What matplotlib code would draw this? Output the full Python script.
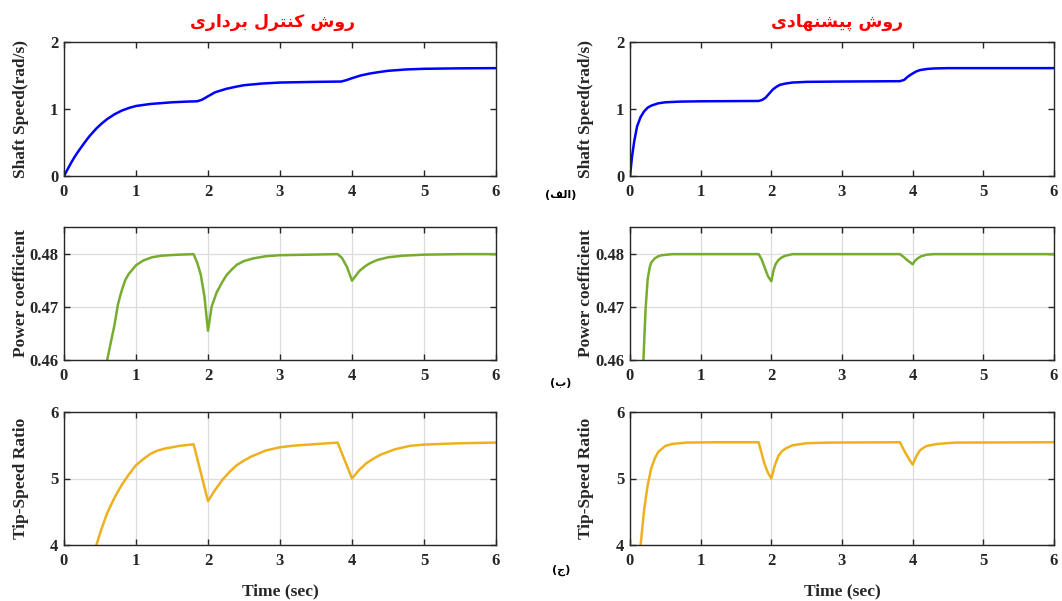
import matplotlib

matplotlib.use("Agg")
import matplotlib.pyplot as plt

# ---- values -------------------------------------------------------------
# shaft speed (rad/s), vector control (left) and proposed method (right)
t_speed_vc = [0, 0.05, 0.1, 0.15, 0.2, 0.28, 0.35, 0.45, 0.52, 0.6, 0.7, 0.8, 0.9, 1.0, 1.2,
              1.5, 1.7, 1.85, 1.92, 2.0, 2.1, 2.25, 2.4, 2.5, 2.75, 3.0, 3.5, 3.85, 3.92, 4.0,
              4.12, 4.25, 4.4, 4.5, 4.75, 5.0, 5.5, 6.0]
speed_vc = [0, 0.1, 0.2, 0.29, 0.37, 0.49, 0.59, 0.71, 0.78, 0.85, 0.92, 0.975, 1.015, 1.045,
            1.075, 1.1, 1.11, 1.115, 1.14, 1.19, 1.25, 1.30, 1.335, 1.355, 1.38, 1.395, 1.405,
            1.41, 1.43, 1.46, 1.5, 1.53, 1.555, 1.57, 1.59, 1.60, 1.607, 1.61]
t_speed_pr = [0, 0.03, 0.06, 0.1, 0.15, 0.2, 0.25, 0.3, 0.4, 0.5, 0.7, 1.0, 1.5, 1.82,
              1.87, 1.92, 1.97, 2.02, 2.07, 2.12, 2.2, 2.3, 2.5, 3.0, 3.5, 3.82, 3.88, 3.94,
              4.0, 4.05, 4.1, 4.2, 4.3, 4.5, 5.0, 6.0]
speed_pr = [0, 0.3, 0.52, 0.74, 0.88, 0.965, 1.02, 1.05, 1.085, 1.10, 1.11, 1.115, 1.118, 1.12,
            1.135, 1.17, 1.23, 1.29, 1.33, 1.36, 1.38, 1.395, 1.405, 1.41, 1.413, 1.415, 1.435, 1.49,
            1.53, 1.56, 1.58, 1.597, 1.605, 1.61, 1.61, 1.61]

# power coefficient
t_cp_vc = [0.6, 0.65, 0.7, 0.75, 0.8, 0.85, 0.9, 1.0, 1.1, 1.22, 1.35, 1.46, 1.6, 1.8,
           1.85, 1.9, 1.95, 2.0, 2.05, 2.12, 2.2, 2.26, 2.33, 2.4, 2.5, 2.63, 2.8, 3.0, 3.4, 3.8,
           3.86, 3.93, 4.0, 4.05, 4.1, 4.18, 4.25, 4.35, 4.5, 4.7, 5.0, 5.5, 6.0]
cp_vc = [0.46, 0.4633, 0.4665, 0.4705, 0.4730, 0.4750, 0.4762, 0.4778, 0.4787, 0.4793, 0.4796,
         0.4797, 0.4798, 0.4799,
         0.4783, 0.4760, 0.4720, 0.4655, 0.4700, 0.4727, 0.4747, 0.4760, 0.4770, 0.4779, 0.4786,
         0.4791, 0.4795, 0.4797, 0.4798, 0.4799,
         0.4792, 0.4775, 0.4749, 0.4758, 0.4767, 0.4776, 0.4782, 0.4788, 0.4793, 0.4796, 0.4798,
         0.4799, 0.4799]
t_cp_pr = [0.19, 0.22, 0.25, 0.28, 0.3, 0.35, 0.4, 0.45, 0.6, 1.0, 1.82,
           1.86, 1.9, 1.95, 2.0, 2.03, 2.06, 2.1, 2.15, 2.2, 2.3, 3.0, 3.82,
           3.87, 3.92, 3.96, 4.0, 4.03, 4.07, 4.12, 4.2, 4.3, 5.0, 6.0]
cp_pr = [0.46, 0.4695, 0.4752, 0.4775, 0.4783, 0.4791, 0.4795, 0.4797, 0.4799, 0.4799, 0.4799,
         0.4790, 0.4776, 0.4758, 0.4748, 0.4768, 0.4780, 0.4788, 0.4793, 0.4796, 0.4799, 0.4799,
         0.4799,
         0.4794, 0.4788, 0.4784, 0.4780, 0.4786, 0.4791, 0.4795, 0.4798, 0.4799, 0.4799, 0.4799]

# tip-speed ratio
t_tsr_vc = [0.45, 0.52, 0.6, 0.7, 0.8, 0.9, 1.0, 1.1, 1.2, 1.3, 1.4, 1.6, 1.8,
            1.9, 2.0, 2.1, 2.2, 2.3, 2.4, 2.5, 2.6, 2.8, 3.0, 3.2, 3.4, 3.8,
            3.9, 4.0, 4.1, 4.2, 4.3, 4.4, 4.6, 4.8, 5.0, 5.5, 6.0]
tsr_vc = [4.0, 4.24, 4.48, 4.71, 4.90, 5.06, 5.20, 5.29, 5.37, 5.42, 5.45, 5.49, 5.515,
          5.09, 4.66, 4.83, 4.98, 5.10, 5.20, 5.27, 5.33, 5.42, 5.47, 5.495, 5.51, 5.54,
          5.27, 5.0, 5.13, 5.23, 5.30, 5.36, 5.44, 5.49, 5.51, 5.53, 5.54]
t_tsr_pr = [0.15, 0.2, 0.25, 0.3, 0.35, 0.4, 0.5, 0.6, 0.8, 1.2, 1.82,
            1.85, 1.9, 1.95, 2.0, 2.05, 2.1, 2.15, 2.2, 2.3, 2.5, 2.8, 3.82,
            3.86, 3.9, 3.95, 4.0, 4.05, 4.1, 4.15, 4.2, 4.35, 4.6, 6.0]
tsr_pr = [4.0, 4.53, 4.90, 5.15, 5.30, 5.40, 5.49, 5.52, 5.54, 5.545, 5.545,
          5.43, 5.23, 5.09, 5.0, 5.2, 5.34, 5.41, 5.45, 5.50, 5.53, 5.54, 5.545,
          5.46, 5.38, 5.29, 5.21, 5.33, 5.42, 5.46, 5.49, 5.52, 5.54, 5.545]

x_ticks = [0, 1, 2, 3, 4, 5, 6]
speed_ticks = [0, 1, 2]
cp_ticks = [0.46, 0.47, 0.48]
tsr_ticks = [4, 5, 6]

# ---- Persian text: shape letters by hand (matplotlib has no RTL shaping) --
# isolated, final, initial, medial presentation forms
FORMS = {
    "ا": ("\uFE8D", "\uFE8E", None, None),
    "د": ("\uFEA9", "\uFEAA", None, None),
    "ر": ("\uFEAD", "\uFEAE", None, None),
    "و": ("\uFEED", "\uFEEE", None, None),
    "ب": ("\uFE8F", "\uFE90", "\uFE91", "\uFE92"),
    "ت": ("\uFE95", "\uFE96", "\uFE97", "\uFE98"),
    "ج": ("\uFE9D", "\uFE9E", "\uFE9F", "\uFEA0"),
    "ش": ("\uFEB5", "\uFEB6", "\uFEB7", "\uFEB8"),
    "ف": ("\uFED1", "\uFED2", "\uFED3", "\uFED4"),
    "ل": ("\uFEDD", "\uFEDE", "\uFEDF", "\uFEE0"),
    "ن": ("\uFEE5", "\uFEE6", "\uFEE7", "\uFEE8"),
    "ه": ("\uFEE9", "\uFEEA", "\uFEEB", "\uFEEC"),
    "ک": ("\uFB8E", "\uFB8F", "\uFB90", "\uFB91"),
    "پ": ("\uFB56", "\uFB57", "\uFB58", "\uFB59"),
    "ی": ("\uFBFC", "\uFBFD", "\uFBFE", "\uFBFF"),
}


def _joins_forward(ch):
    return ch in FORMS and FORMS[ch][2] is not None


def persian(text):
    """Pick contextual forms, then reverse into visual (left-to-right) order."""
    out = []
    for i, ch in enumerate(text):
        if ch not in FORMS:
            out.append(ch)
            continue
        prev = text[i - 1] if i > 0 else ""
        nxt = text[i + 1] if i + 1 < len(text) else ""
        from_prev = _joins_forward(prev)
        to_next = _joins_forward(ch) and nxt in FORMS
        iso, fin, ini, med = FORMS[ch]
        if from_prev and to_next:
            out.append(med)
        elif from_prev:
            out.append(fin)
        elif to_next:
            out.append(ini)
        else:
            out.append(iso)
    mirror = {"(": ")", ")": "("}
    return "".join(mirror.get(c, c) for c in reversed(out))


plt.rcParams["font.family"] = ["Liberation Serif", "DejaVu Sans"]
plt.rcParams["font.weight"] = "bold"

fig = plt.figure(figsize=(10.62, 6.01), dpi=100)

W, H = 1062, 601
col_left = [64, 630]
col_w = [432, 424]
row_top = [42, 227, 412]
row_bot = [176, 360, 545]
ylabel_x = [29, 594]   # right edge of the rotated y label, in pixels

panels = [
    # (row, col, t, values, color, ylim, yticks, ylabel, grid)
    (0, 0, t_speed_vc, speed_vc, "#0000FF", (0, 2), speed_ticks, "Shaft Speed(rad/s)", False),
    (0, 1, t_speed_pr, speed_pr, "#0000FF", (0, 2), speed_ticks, "Shaft Speed(rad/s)", False),
    (1, 0, t_cp_vc, cp_vc, "#77AC30", (0.46, 0.485), cp_ticks, "Power coefficient", True),
    (1, 1, t_cp_pr, cp_pr, "#77AC30", (0.46, 0.485), cp_ticks, "Power coefficient", True),
    (2, 0, t_tsr_vc, tsr_vc, "#EDB120", (4, 6), tsr_ticks, "Tip-Speed Ratio", True),
    (2, 1, t_tsr_pr, tsr_pr, "#EDB120", (4, 6), tsr_ticks, "Tip-Speed Ratio", True),
]

for row, col, t, vals, color, ylim, yticks, ylabel, grid in panels:
    rect = [col_left[col] / W, 1 - row_bot[row] / H, col_w[col] / W,
            (row_bot[row] - row_top[row]) / H]
    ax = fig.add_axes(rect)
    ax.plot(t, vals, color=color, linewidth=1.8)
    ax.set_xlim(0, 6)
    ax.set_ylim(*ylim)
    ax.set_xticks(x_ticks)
    ax.set_yticks(yticks)
    ax.set_xticklabels([f"{v:g}" for v in x_ticks])
    ax.set_yticklabels([f"{v:g}" for v in yticks])
    ax.tick_params(direction="in", top=True, right=True, length=4, width=1,
                   labelsize=12, colors="#262626")
    ax.tick_params(axis="x", pad=6)
    ax.tick_params(axis="y", pad=4)
    for lab in ax.get_xticklabels() + ax.get_yticklabels():
        lab.set_fontweight("bold")
    for sp in ax.spines.values():
        sp.set_linewidth(1.0)
        sp.set_color("#262626")
    if grid:
        ax.grid(True, color="#dcdcdc", linewidth=0.9)
        ax.set_axisbelow(True)
    ax.set_ylabel(ylabel, fontsize=12.5, fontweight="bold", color="#262626")
    ax.yaxis.set_label_coords((ylabel_x[col] - col_left[col]) / col_w[col], 0.5)
    if row == 2:
        ax.set_xlabel("Time (sec)", fontsize=12.5, fontweight="bold", color="#262626")
        ax.xaxis.set_label_coords(0.5, -(583 - row_bot[row]) / (row_bot[row] - row_top[row]))

fig.text(273 / W, 1 - 22 / H, persian("روش کنترل برداری"), color="#FF0000", fontsize=12.5,
         family="DejaVu Sans", fontweight="bold", ha="center", va="center")
fig.text(837 / W, 1 - 22 / H, persian("روش پیشنهادی"), color="#FF0000", fontsize=12.5,
         family="DejaVu Sans", fontweight="bold", ha="center", va="center")

for label, y in (("(الف)", 195), ("(ب)", 383), ("(ج)", 570)):
    fig.text(561 / W, 1 - y / H, persian(label), fontsize=8, family="DejaVu Sans",
             fontweight="bold", ha="center", va="center")

fig.savefig("out.png", dpi=100)
